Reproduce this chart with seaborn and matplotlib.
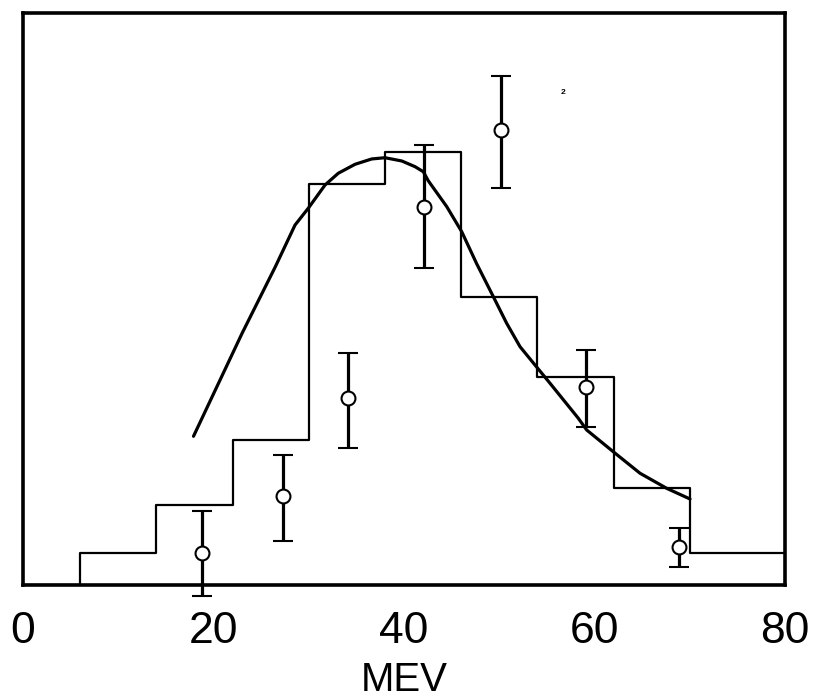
import numpy as np
import pandas as pd
import matplotlib
matplotlib.use("Agg")
import matplotlib.pyplot as plt
import seaborn as sns

# Measured energy histogram (bin edges in MeV, heights in arbitrary units)
bin_edges = [0, 6, 14, 22, 30, 38, 46, 54, 62, 70, 80]
bin_heights = [0.0, 3.4, 8.4, 15.2, 42.1, 45.4, 30.2, 21.8, 10.2, 3.4]

# Data points with error bars
pt_x = [18.8, 27.3, 34.1, 42.1, 50.2, 59.1, 68.9]
pt_y = [3.4, 9.3, 19.6, 39.6, 47.7, 20.8, 4.0]
pt_hi = [7.8, 13.6, 24.3, 46.2, 53.4, 24.6, 6.0]
pt_lo = [-1.2, 4.6, 14.4, 33.3, 41.6, 16.6, 1.9]

# Theoretical curve
curve_x = [17.9, 23.0, 26.5, 28.56, 29.95, 31.71, 33.10, 34.86, 36.61,
           38.00, 39.76, 41.16, 42.03, 42.55, 44.48, 46.06, 47.63, 49.38,
           50.78, 52.18, 53.75, 55.33, 58.30, 59.18, 61.97, 64.78, 67.58,
           70.03]
curve_y = [15.6, 26.4, 33.4, 37.76, 39.52, 41.96, 43.19, 44.13, 44.69,
           44.82, 44.48, 43.88, 43.35, 42.40, 39.70, 37.06, 33.70, 30.24,
           27.45, 25.00, 23.08, 21.16, 17.49, 16.26, 13.98, 11.72, 10.14,
           9.02]

xticks = [0, 20, 40, 60, 80]

sns.set_theme(style="white")
plt.rcParams["font.family"] = ["Liberation Sans", "DejaVu Sans"]

fig = plt.figure(figsize=(8.16, 7.0), dpi=100)
ax = fig.add_axes([23 / 816, 1 - 585 / 700, 762 / 816, 572 / 700])

centers = [(a + b) / 2 for a, b in zip(bin_edges[:-1], bin_edges[1:])]
hist_df = pd.DataFrame({"energy": centers, "weight": bin_heights})
sns.histplot(data=hist_df, x="energy", weights="weight", bins=bin_edges,
             element="step", fill=False, color="black", linewidth=1.6, ax=ax)

curve_df = pd.DataFrame({"energy": curve_x, "value": curve_y})
sns.lineplot(data=curve_df, x="energy", y="value", color="black",
             linewidth=2.3, sort=False, ax=ax)

y = np.array(pt_y)
yerr = np.vstack([y - np.array(pt_lo), np.array(pt_hi) - y])
ax.errorbar(pt_x, pt_y, yerr=yerr, fmt="o", color="black",
            markerfacecolor="white", markeredgecolor="black", markersize=10,
            markeredgewidth=1.5, elinewidth=2.3, capsize=7, capthick=2.5,
            clip_on=False, zorder=5)

ax.text(56.7, 51.7, "2", fontsize=6, fontweight="bold", ha="center",
        va="center", color="black")

ax.set_xlim(0, 80)
ax.set_ylim(0, 60)
ax.set_xticks(xticks)
ax.set_xticklabels([str(t) for t in xticks])
ax.set_yticks([])
ax.tick_params(axis="x", length=0, pad=19, labelsize=32, colors="black")
ax.set_xlabel("MEV", fontsize=29, labelpad=6, color="black")
ax.set_ylabel("")
for s in ax.spines.values():
    s.set_visible(True)
    s.set_color("black")
    s.set_linewidth(2.6)

fig.savefig("out.png", dpi=100, facecolor="white")
